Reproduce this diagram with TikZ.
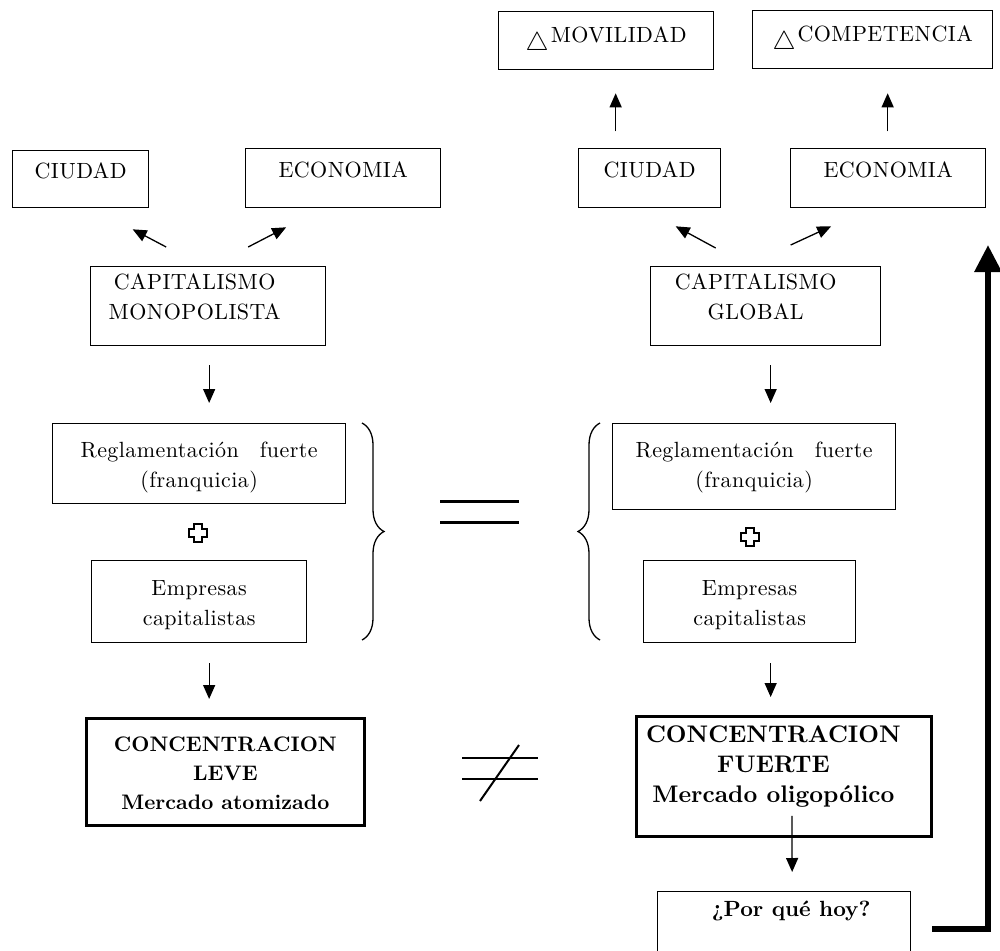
\documentclass[tikz,border=0pt]{standalone}
\usepackage{fontspec}
\setmainfont{lmroman10-regular.otf}[
  BoldFont=lmroman10-bold.otf,
  ItalicFont=lmroman10-italic.otf,
  BoldItalicFont=lmroman10-bolditalic.otf]
\usepackage{graphicx}
\usetikzlibrary{arrows.meta,calc,decorations.pathreplacing}
\newcommand{\delt}{\scalebox{1.25}{$\bigtriangleup$}}
\begin{document}
\begin{tikzpicture}[x=1pt,y=-1pt,
  txt/.style={font=\fontsize{22}{30}\selectfont\addfontfeatures{LetterSpace=2}},
  boldtxt/.style={font=\fontsize{21}{29}\selectfont\bfseries},
  bigbold/.style={font=\fontsize{24}{30}\selectfont\bfseries},
  box/.style={draw, line width=1.3pt, inner sep=0pt, txt, align=center, anchor=north west},
  heavybox/.style={box, line width=2.8pt, boldtxt},
  arr/.style={line width=1.3pt, -{Triangle[length=14pt,width=12pt]}},
  bigarr/.style={line width=6pt, -{Triangle[length=27pt,width=26pt]}},
  bracedeco/.style={line width=1.3pt, decorate, decoration={brace, amplitude=22pt}},
  crossmark/.style={line width=1.4pt},
]
\useasboundingbox (0,0) rectangle (1000,950);

% ---------- left column: monopolist capitalism ----------
\node[box, minimum width=136pt, text height=28pt, text depth=29pt] (ciuL) at (12,150) {CIUDAD};
\node[box, minimum width=195pt, text height=29pt, text depth=30pt] (ecoL) at (245,148) {ECONOMIA};
\node[box, minimum width=235pt, text height=23pt, text depth=56pt] (capL) at (90,266)
  {\begin{tabular}[t]{@{}c@{}}CAPITALISMO\\MONOPOLISTA\end{tabular}\hspace*{27pt}};
\node[box, minimum width=293pt, text height=34pt, text depth=46pt] (regL) at (52,423)
  {\begin{tabular}[t]{@{}c@{}}Reglamentación\hspace{0.6em} fuerte\\(franquicia)\end{tabular}};
\node[box, minimum width=215pt, text height=35pt, text depth=47pt] (empL) at (91,560)
  {\begin{tabular}[t]{@{}c@{}}Empresas\\capitalistas\end{tabular}};
\node[heavybox, minimum width=278pt, text height=33pt, text depth=74pt] (conL) at (85,717)
  {\begin{tabular}[t]{@{}c@{}}CONCENTRACION\\LEVE\\Mercado atomizado\end{tabular}};

\draw[arr] ($(capL.north)+(-42,-19)$) -- ($(ciuL.south)+(52,21)$);
\draw[arr] ($(capL.north)+(40,-19)$) -- ($(ecoL.south)+(-57,19)$);
\draw[arr] ($(capL.south)+(1,19)$) -- ($(capL.south |- regL.north)+(1,-20)$);
\draw[arr] ($(capL.south |- empL.south)+(1,20)$) -- ($(capL.south |- conL.north)+(1,-18)$);

% outlined plus sign between the two boxes
\coordinate (plusL) at (198,533);
\draw[crossmark, shift={(plusL)}]
  (-4,-9) -- (4,-9) -- (4,-4) -- (9,-4) -- (9,4) -- (4,4) -- (4,9)
  -- (-4,9) -- (-4,4) -- (-9,4) -- (-9,-4) -- (-4,-4) -- cycle;

\draw[bracedeco] (362,423) -- (362,640);

% ---------- equal / not equal signs ----------
\draw[line width=3pt] (440,501) -- (519,501);
\draw[line width=3pt] (440,522) -- (519,522);
\draw[line width=2.5pt] (462,758) -- (538,758);
\draw[line width=2.5pt] (462,779) -- (538,779);
\draw[line width=2pt] (480,801) -- (519,745);

% ---------- right column: global capitalism ----------
\node[box, minimum width=215pt, text height=39pt, text depth=19pt] (movR) at (498,11)
  {\delt\hspace{2pt}\raisebox{8pt}{MOVILIDAD}};
\node[box, minimum width=240pt, text height=39pt, text depth=19pt] (comR) at (752,10)
  {\delt\hspace{2pt}\raisebox{8pt}{COMPETENCIA}};
\node[box, minimum width=142pt, text height=29pt, text depth=30pt] (ciuR) at (578,148) {CIUDAD};
\node[box, minimum width=195pt, text height=29pt, text depth=30pt] (ecoR) at (790,148) {ECONOMIA};
\node[box, minimum width=230pt, text height=23pt, text depth=56pt] (capR) at (650,266)
  {\begin{tabular}[t]{@{}c@{}}CAPITALISMO\\GLOBAL\end{tabular}\hspace*{20pt}};
\node[box, minimum width=283pt, text height=34pt, text depth=52pt] (regR) at (612,423)
  {\begin{tabular}[t]{@{}c@{}}Reglamentación\hspace{0.6em} fuerte\\(franquicia)\end{tabular}};
\node[box, minimum width=212pt, text height=35pt, text depth=47pt] (empR) at (643,560)
  {\begin{tabular}[t]{@{}c@{}}Empresas\\capitalistas\end{tabular}};
\node[heavybox, bigbold, minimum width=295pt, text height=26pt, text depth=94pt] (conR) at (635,715)
  {\begin{tabular}[t]{@{}c@{}}CONCENTRACION\\FUERTE\\Mercado oligopólico\end{tabular}\hspace*{21pt}};
\node[box, font=\fontsize{22}{27}\selectfont\bfseries, minimum width=253pt, text height=25pt, text depth=50pt] (porq) at (657,891)
  {\hspace*{14pt}¿Por qué hoy?};

\draw[arr] ($(movR.south)+(9.5,61)$) -- ($(movR.south)+(9.5,23)$);
\draw[arr] ($(comR.south)+(15,62)$) -- ($(comR.south)+(15,24)$);
\draw[arr] ($(capR.north)+(-50,-18)$) -- ($(ciuR.south)+(26,18)$);
\draw[arr] ($(capR.north)+(25,-21)$) -- ($(ecoR.south)+(-57,18)$);
\draw[arr] ($(capR.south)+(5,19)$) -- ($(capR.south |- regR.north)+(5,-20)$);
\draw[arr] ($(capR.south |- empR.south)+(5,20)$) -- ($(capR.south |- conR.north)+(5,-18)$);
\draw[arr] ($(conR.south)+(8,-22)$) -- ($(porq.north)+(8,-19)$);

\coordinate (plusR) at (750,537);
\draw[crossmark, shift={(plusR)}]
  (-4,-9) -- (4,-9) -- (4,-4) -- (9,-4) -- (9,4) -- (4,4) -- (4,9)
  -- (-4,9) -- (-4,4) -- (-9,4) -- (-9,-4) -- (-4,-4) -- cycle;

\draw[bracedeco] (600,640) -- (600,423);

% return arrow from the question back up to the top
\coordinate (retTip) at (988,245);
\draw[bigarr] ($(porq.east)+(21,0)$) -| (retTip);
\end{tikzpicture}
\end{document}
